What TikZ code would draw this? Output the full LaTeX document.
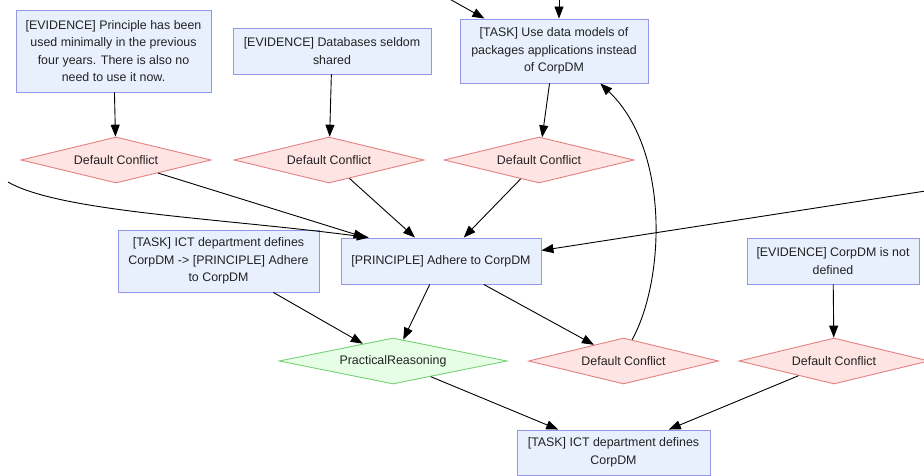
\documentclass[tikz,border=0pt]{standalone}
\usepackage{fontspec}
\setmainfont{Liberation Sans}
\usetikzlibrary{arrows.meta,shapes.geometric}
\definecolor{BoxFill}{RGB}{232,240,254}
\definecolor{BoxLine}{RGB}{150,150,232}
\definecolor{ConflictFill}{RGB}{255,228,228}
\definecolor{ConflictLine}{RGB}{228,128,128}
\definecolor{ReasonFill}{RGB}{230,254,230}
\definecolor{ReasonLine}{RGB}{118,210,118}
\definecolor{InkGrey}{RGB}{34,34,34}

\begin{document}
\begin{tikzpicture}[x=1pt, y=-1pt,
  every node/.style={font=\fontsize{12.4}{17.6}\selectfont, align=center, text=InkGrey},
  box/.style={draw=BoxLine, fill=BoxFill, line width=0.9pt, inner sep=0pt},
  conflict/.style={diamond, aspect=4, draw=ConflictLine, fill=ConflictFill, line width=0.9pt,
    inner sep=0pt, minimum width=190pt, minimum height=46pt},
  reason/.style={diamond, aspect=5, draw=ReasonLine, fill=ReasonFill, line width=0.9pt,
    inner sep=0pt, minimum width=228pt, minimum height=46pt},
  link/.style={-{Stealth[length=12pt, width=9pt, inset=0pt]}, line width=0.9pt}]
  \useasboundingbox (0,0) rectangle (924,476);

  % top row
  \node[box, minimum width=195pt, minimum height=82pt] (evUsed) at (113.5,51)
    {[EVIDENCE] Principle has been\\used minimally in the previous\\four years. There is also no\\need to use it now.};
  \node[box, minimum width=198pt, minimum height=46pt] (evShared) at (332,51)
    {[EVIDENCE] Databases seldom\\shared};
  \node[box, minimum width=188pt, minimum height=64pt] (taskModels) at (554,51)
    {[TASK] Use data models of\\packages applications instead\\of CorpDM};

  % conflicts
  \node[conflict] (dcUsed) at (116,160) {Default Conflict};
  \node[conflict] (dcShared) at (329,160) {Default Conflict};
  \node[conflict] (dcModels) at (539,160) {Default Conflict};

  % middle row
  \node[box, minimum width=201pt, minimum height=62pt] (taskIct) at (218.5,261)
    {[TASK] ICT department defines\\CorpDM -> [PRINCIPLE] Adhere\\to CorpDM};
  \node[box, minimum width=200pt, minimum height=46pt] (principle) at (441,261)
    {[PRINCIPLE] Adhere to CorpDM};
  \node[box, minimum width=172pt, minimum height=46pt] (evCorp) at (833,261)
    {[EVIDENCE] CorpDM is not\\defined};

  \node[reason] (practical) at (393,361) {PracticalReasoning};
  \node[conflict] (dcPrinciple) at (623.5,361) {Default Conflict};
  \node[conflict] (dcCorp) at (834,361) {Default Conflict};

  \node[box, minimum width=193pt, minimum height=45pt] (taskDefine) at (613.5,452.5)
    {[TASK] ICT department defines\\CorpDM};

  % ends outside the picture
  \coordinate (offLeft) at (8,182);
  \coordinate (offRight) at (932,190);
  \coordinate (offTopA) at (446,-3);
  \coordinate (offTopB) at (559,-3);

  \draw[link] (evUsed) -- (dcUsed);
  \draw[link] (evShared) -- (dcShared);
  \draw[link] (taskModels) -- (dcModels);
  \draw[link] (dcUsed) -- (principle);
  \draw[link] (dcShared) -- (principle);
  \draw[link] (dcModels) -- (principle);
  \draw[link] (offLeft) .. controls (60,212) and (220,218) .. (principle.162);
  \draw[link] (offRight) -- (principle.6);
  \draw[link] (offTopA) -- (taskModels.155);
  \draw[link] (offTopB) -- (offTopB |- taskModels.north);
  \draw[link] (taskIct) -- (practical);
  \draw[link] (principle) -- (practical);
  \draw[link] (principle) -- (dcPrinciple);
  \draw[link] (dcPrinciple.68) .. controls (665,280) and (670,150) .. (taskModels.-35);
  \draw[link] (evCorp) -- (dcCorp);
  \draw[link] (practical) -- (taskDefine);
  \draw[link] (dcCorp) -- (taskDefine);
\end{tikzpicture}
\end{document}
